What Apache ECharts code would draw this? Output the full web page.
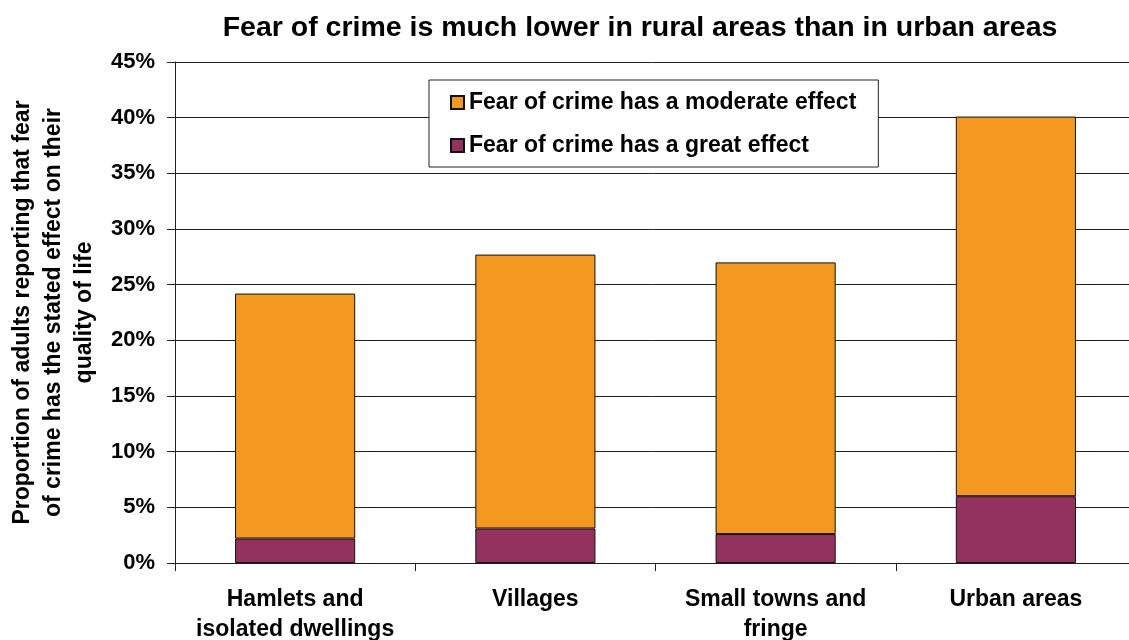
<!DOCTYPE html>
<html>
<head>
<meta charset="utf-8">
<script src="https://cdn.jsdelivr.net/npm/echarts@6/dist/echarts.min.js"></script>
<style>
  html, body { margin: 0; padding: 0; background: #fff; }
  #chart { width: 1129px; height: 640px; }
</style>
</head>
<body>
<div id="chart"></div>
<script>
// areas along the x axis
var categories = ['Hamlets and\nisolated dwellings', 'Villages', 'Small towns and\nfringe', 'Urban areas'];
// percent of adults
var greatEffect = [2.2, 3.1, 2.6, 6.0];
var moderateEffect = [22.0, 24.6, 24.4, 34.1];
var yTicks = [0, 5, 10, 15, 20, 25, 30, 35, 40, 45];

var font = '"Liberation Sans", Arial, sans-serif';

var chart = echarts.init(document.getElementById('chart'));

chart.setOption({
  animation: false,
  title: {
    text: 'Fear of crime is much lower in rural areas than in urban areas',
    left: 640,
    top: 14,
    padding: 0,
    textAlign: 'center',
    textStyle: { fontFamily: font, fontSize: 28.5, fontWeight: 'bold', color: '#000' }
  },
  legend: {
    data: ['Fear of crime has a moderate effect', 'Fear of crime has a great effect'],
    orient: 'vertical',
    left: 429,
    top: 80,
    padding: [11, 22, 10, 21],
    itemGap: 20,
    itemWidth: 13,
    itemHeight: 13,
    icon: 'rect',
    backgroundColor: '#fff',
    borderColor: '#222',
    borderWidth: 1,
    textStyle: { fontFamily: font, fontSize: 23, fontWeight: 'bold', color: '#000' }
  },
  grid: {
    left: 175,
    top: 62,
    width: 961,
    bottom: 77,
    containLabel: false,
    outerBoundsMode: 'none'
  },
  xAxis: {
    type: 'category',
    data: categories,
    axisLine: { lineStyle: { color: '#222', width: 1 } },
    axisTick: { show: true, interval: 0, length: 8, alignWithLabel: false, lineStyle: { color: '#222' } },
    axisLabel: {
      interval: 0,
      margin: 22,
      fontFamily: font,
      fontSize: 23,
      fontWeight: 'bold',
      color: '#000',
      lineHeight: 30
    }
  },
  yAxis: {
    type: 'value',
    min: yTicks[0],
    max: yTicks[yTicks.length - 1],
    interval: 5,
    name: 'Proportion of adults reporting that fear\nof crime has the stated effect on their\nquality of life',
    nameLocation: 'middle',
    nameRotate: 90,
    nameGap: 74,
    nameTextStyle: { fontFamily: font, fontSize: 23, fontWeight: 'bold', color: '#000', lineHeight: 31 },
    axisLine: { show: true, lineStyle: { color: '#222', width: 1 } },
    axisTick: { show: true, length: 8, lineStyle: { color: '#222' } },
    axisLabel: {
      margin: 20,
      fontFamily: font,
      fontSize: 22,
      fontWeight: 'bold',
      color: '#000',
      formatter: '{value}%'
    },
    splitLine: { show: true, lineStyle: { color: '#222', width: 1 } }
  },
  series: [
    {
      name: 'Fear of crime has a great effect',
      type: 'bar',
      stack: 'total',
      barWidth: '50%',
      data: greatEffect,
      itemStyle: { color: '#93325F', borderColor: '#111', borderWidth: 1 }
    },
    {
      name: 'Fear of crime has a moderate effect',
      type: 'bar',
      stack: 'total',
      barWidth: '50%',
      data: moderateEffect,
      itemStyle: { color: '#F39820', borderColor: '#111', borderWidth: 1 }
    }
  ]
});
</script>
</body>
</html>
